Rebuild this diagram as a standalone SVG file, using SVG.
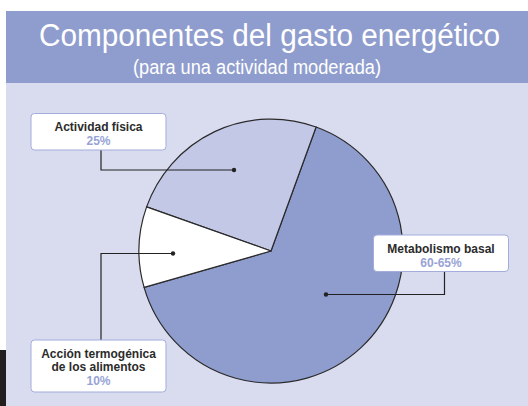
<svg xmlns="http://www.w3.org/2000/svg" width="528" height="406" viewBox="0 0 528 406">
<style>
.lbl{font-family:"Liberation Sans",Arial,sans-serif;font-size:12px;font-weight:bold;fill:#2b2b2b;text-anchor:middle}
.pct{font-family:"Liberation Sans",Arial,sans-serif;font-size:12px;font-weight:bold;fill:#98a3d6;text-anchor:middle}
.box{fill:#ffffff;stroke:#a3acdb;stroke-width:1}
.con{fill:none;stroke:#222;stroke-width:1.2}
.dot{fill:#222}
.slice{stroke:#2a2a2a;stroke-width:1.2;stroke-linejoin:round}
.ttl{font-family:"Liberation Sans",Arial,sans-serif;fill:#ffffff}
</style>
<rect x="0" y="0" width="528" height="406" fill="#ffffff"/>
<rect x="6" y="83" width="522" height="323" fill="#d9dcef"/>
<rect x="0" y="350" width="6" height="56" fill="#211e1d"/>
<rect x="6" y="11" width="522" height="72" fill="#8f9dce"/>
<text class="ttl" x="39" y="45.5" font-size="31" textLength="461" lengthAdjust="spacingAndGlyphs">Componentes del gasto energético</text>
<text class="ttl" x="133" y="74" font-size="20" textLength="248" lengthAdjust="spacingAndGlyphs">(para una actividad moderada)</text>
<g id="pie">
<path class="slice" d="M271,251 L316.1,127 A132,132 0 1,1 144.1,287.4 Z" fill="#8f9dce"/>
<path class="slice" d="M271,251 L146.6,206.9 A132,132 0 0,1 316.1,127 Z" fill="#c4c8e7"/>
<path class="slice" d="M271,251 L144.1,287.4 A132,132 0 0,1 146.6,206.9 Z" fill="#ffffff"/>
</g>
<g id="connectors">
<polyline class="con" points="101,150 101,170 234,170"/>
<circle class="dot" cx="234" cy="170" r="2.2"/>
<polyline class="con" points="101,340 101,253.5 173,253.5"/>
<circle class="dot" cx="173" cy="253.5" r="2.2"/>
<polyline class="con" points="444.5,271.5 444.5,294.5 326,294.5"/>
<circle class="dot" cx="326" cy="294.5" r="2.2"/>
</g>
<g id="actividad">
<rect class="box" x="31" y="113.5" width="135" height="36.5" rx="3.5"/>
<text class="lbl" x="98.5" y="131">Actividad física</text>
<text class="pct" x="98.5" y="145">25%</text>
</g>
<g id="accion">
<rect class="box" x="31" y="340" width="135" height="52" rx="3.5"/>
<text class="lbl" x="98.5" y="357.5">Acción termogénica</text>
<text class="lbl" x="98.5" y="371">de los alimentos</text>
<text class="pct" x="98.5" y="385">10%</text>
</g>
<g id="metabolismo">
<rect class="box" x="373.5" y="235" width="135" height="36.5" rx="3.5"/>
<text class="lbl" x="441" y="252.5">Metabolismo basal</text>
<text class="pct" x="441" y="266.5">60-65%</text>
</g>
</svg>
